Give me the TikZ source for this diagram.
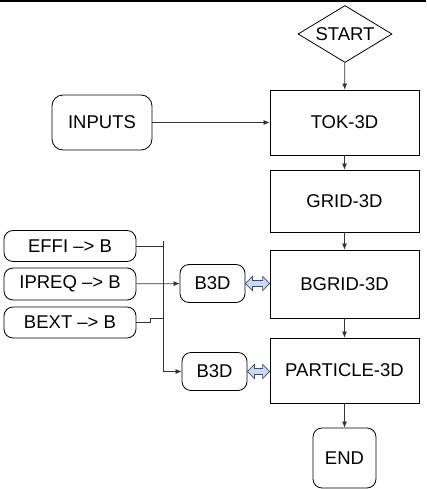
\documentclass[tikz,border=0pt]{standalone}
\usepackage{fontspec}
\setmainfont{Liberation Sans}
\usetikzlibrary{shapes.geometric,arrows.meta,calc}
\definecolor{linegray}{HTML}{333333}
\definecolor{fatblue}{HTML}{C9DAF8}
\definecolor{fatedge}{HTML}{3D4A5E}
\tikzset{
  every node/.style={font=\fontsize{18.5}{20}\selectfont, inner sep=0pt},
  stepbox/.style={draw, line width=0.8pt, minimum width=149pt},
  roundbox/.style={draw, line width=0.8pt, rounded corners=9pt},
  flow/.style={draw=linegray, line width=0.7pt, -{Latex[length=6pt,width=5pt]}},
  wire/.style={draw=linegray, line width=0.7pt},
  fat/.style={draw=fatedge, fill=fatblue, line width=0.7pt}
}
\begin{document}
\begin{tikzpicture}[x=1pt,y=-1pt]
    \useasboundingbox (0,0) rectangle (426,489);
    \fill[black] (0,0) rectangle (426,2.5);
    % main chain
    \node[draw, line width=0.8pt, diamond, aspect=1.65, minimum width=94pt, minimum height=57pt] (start) at (345,34) {START};
    \node[stepbox, minimum height=65pt] (tok) at (344.5,122.5) {TOK-3D};
    \node[stepbox, minimum height=62pt] (grid) at (344.5,201) {GRID-3D};
    \node[stepbox, minimum height=68pt] (bgrid) at (344.5,284) {BGRID-3D};
    \node[stepbox, minimum height=65pt] (part) at (344.5,370.5) {PARTICLE-3D};
    \node[roundbox, minimum width=63pt, minimum height=60pt] (stop) at (344.5,458) {END};
    % side inputs
    \node[roundbox, rounded corners=11pt, minimum width=100pt, minimum height=55pt] (inputs) at (102,122.5) {INPUTS};
    \node[roundbox, minimum width=132pt, minimum height=31pt] (effi) at (70,246) {EFFI --> B};
    \node[roundbox, minimum width=132pt, minimum height=32pt] (ipreq) at (70,284) {IPREQ --> B};
    \node[roundbox, minimum width=132pt, minimum height=31pt] (bext) at (70,322.5) {BEXT --> B};
    \node[roundbox, minimum width=65pt, minimum height=38pt] (b3da) at (212.5,283.5) {B3D};
    \node[roundbox, minimum width=65pt, minimum height=38pt] (b3db) at (214.5,371.5) {B3D};
    \coordinate (bus) at (163,241);

    \draw[flow] (start) -- (tok);
    \draw[flow] (tok) -- (grid);
    \draw[flow] (grid) -- (bgrid);
    \draw[flow] (bgrid) -- (part);
    \draw[flow] (part) -- (stop);
    \draw[flow] (inputs) -- (tok);
    \draw[flow] (ipreq) -- (b3da);
    \draw[wire] (effi.east) -- (effi.east -| bus);
    \draw[wire] (bext.east) -- ++(14,0) -- ++(0,-4.5) -| (bus);
    \draw[flow] (bus) |- (b3db.west);
    % fat double arrows
    \foreach \b/\g in {b3da/bgrid, b3db/part}{
      \coordinate (tip) at (\g.west |- \b.east);
      \path[fat] (\b.east) -- ++(7,-7) -- ++(0,4) -- ($(tip)+(-7,-3)$) -- ++(0,-4) -- (tip) -- ++(-7,7) -- ++(0,-4) -- ($(\b.east)+(7,3)$) -- ++(0,4) -- cycle;
    }
\end{tikzpicture}
\end{document}
